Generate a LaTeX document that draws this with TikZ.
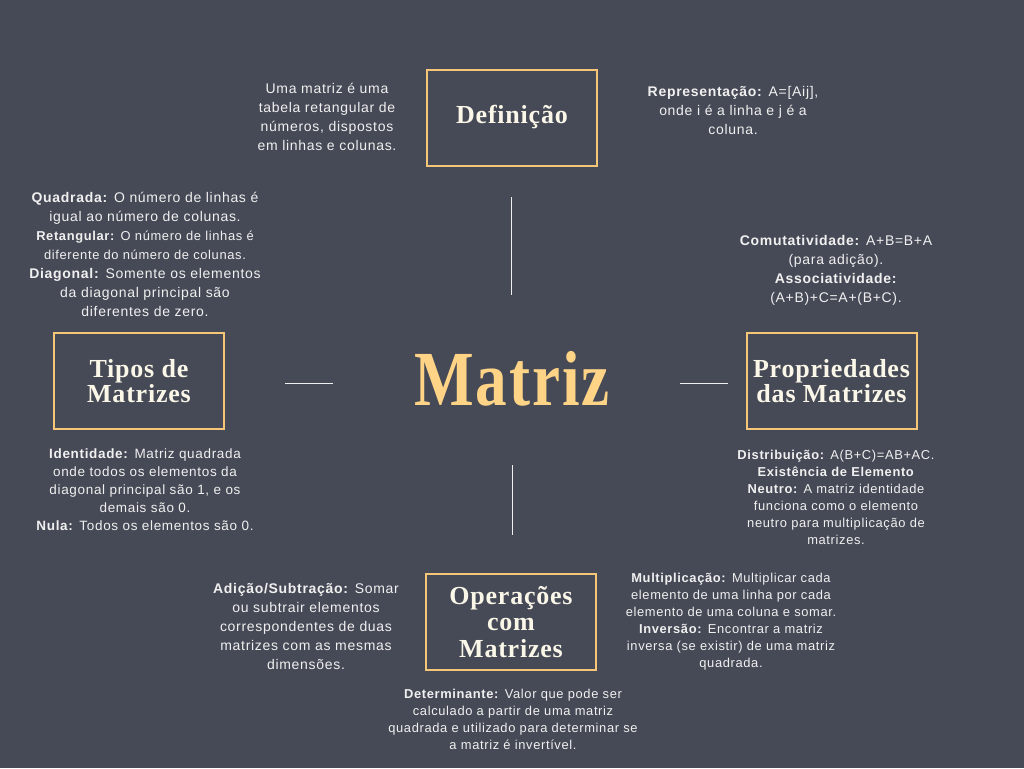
\documentclass[tikz,border=0pt]{standalone}
\usepackage{fontspec}
\setmainfont{Liberation Sans}[LetterSpace=5]
\newfontfamily\headfont{Liberation Serif}[LetterSpace=3]
\usetikzlibrary{positioning}

\definecolor{slate}{RGB}{70,74,86}
\definecolor{gold}{RGB}{245,197,120}
\definecolor{honey}{RGB}{255,212,135}
\definecolor{cream}{RGB}{250,246,232}
\definecolor{paper}{RGB}{240,240,240}

\begin{document}
\begin{tikzpicture}[x=1pt, y=-1pt,
		topic/.style={
			rectangle,
			draw=gold,
			line width=2pt,
			minimum width=170pt,
			minimum height=96pt,
			align=center,
			text=cream,
			font=\headfont\bfseries\fontsize{26}{25}\selectfont
		},
		note/.style={align=center, text=paper, font=\fontsize{14}{19}\selectfont},
		small/.style={align=center, text=paper, font=\fontsize{12.9}{17}\selectfont},
		link/.style={draw=paper, line width=1pt}]

		\fill [slate] (0,0) rectangle (1024,768);

		% centre
		\node [text=honey, font=\headfont\bfseries\fontsize{78}{80}\selectfont, xscale=0.81] (matriz) at (512,379) {Matriz};

		% the four topics
		\node [topic] (def) at (512,117.5) {Definição};
		\node [topic] (tipos) at (139,381) {Tipos de\\Matrizes};
		\node [topic] (prop) at (831.5,381) {Propriedades\\das Matrizes};
		\node [topic, font=\headfont\bfseries\fontsize{26}{26.5}\selectfont] (oper) at (511,622) {Operações\\com\\Matrizes};

		% lines round the centre
		\coordinate (up1) at (511,197);
		\coordinate (up2) at (511,295);
		\coordinate (dn1) at (512,465);
		\coordinate (dn2) at (512,535);
		\coordinate (lt1) at (285,383);
		\coordinate (lt2) at (333,383);
		\coordinate (rt1) at (680,383);
		\coordinate (rt2) at (728,383);
		\draw [link] (up1) -- (up2);
		\draw [link] (dn1) -- (dn2);
		\draw [link] (lt1) -- (lt2);
		\draw [link] (rt1) -- (rt2);

		% notes
		\node [note] (defnote) at (327,117) {Uma matriz é uma\\tabela retangular de\\números, dispostos\\em linhas e colunas.};
		\node [note] (repnote) at (733,110) {\textbf{Representação:} A=[Aij],\\onde i é a linha e j é a\\coluna.};
		\node [note] (tiposnote) at (145,254) {\textbf{Quadrada:} O número de linhas é\\igual ao número de colunas.\\
			{\fontsize{12.9}{17}\selectfont\textbf{Retangular:} O número de linhas é}\\
			{\fontsize{12.9}{17}\selectfont diferente do número de colunas.}\\
			\textbf{Diagonal:} Somente os elementos\\da diagonal principal são\\diferentes de zero.};
		\node [note, font=\fontsize{13.5}{18}\selectfont] (idnote) at (145,490) {\textbf{Identidade:} Matriz quadrada\\onde todos os elementos da\\diagonal principal são 1, e os\\demais são 0.\\\textbf{Nula:} Todos os elementos são 0.};
		\node [note] (comnote) at (836,270) {\textbf{Comutatividade:} A+B=B+A\\(para adição).\\\textbf{Associatividade:}\\(A+B)+C=A+(B+C).};
		\node [small] (distnote) at (836,497) {\textbf{Distribuição:} A(B+C)=AB+AC.\\\textbf{Existência de Elemento}\\\textbf{Neutro:} A matriz identidade\\funciona como o elemento\\neutro para multiplicação de\\matrizes.};
		\node [note] (adnote) at (306,626) {\textbf{Adição/Subtração:} Somar\\ou subtrair elementos\\correspondentes de duas\\matrizes com as mesmas\\dimensões.};
		\node [small] (multnote) at (731,622) {\textbf{Multiplicação:} Multiplicar cada\\elemento de uma linha por cada\\elemento de uma coluna e somar.\\\textbf{Inversão:} Encontrar a matriz\\inversa (se existir) de uma matriz\\quadrada.};
		\node [small] (detnote) at (513,719) {\textbf{Determinante:} Valor que pode ser\\calculado a partir de uma matriz\\quadrada e utilizado para determinar se\\a matriz é invertível.};
	\end{tikzpicture}
\end{document}
